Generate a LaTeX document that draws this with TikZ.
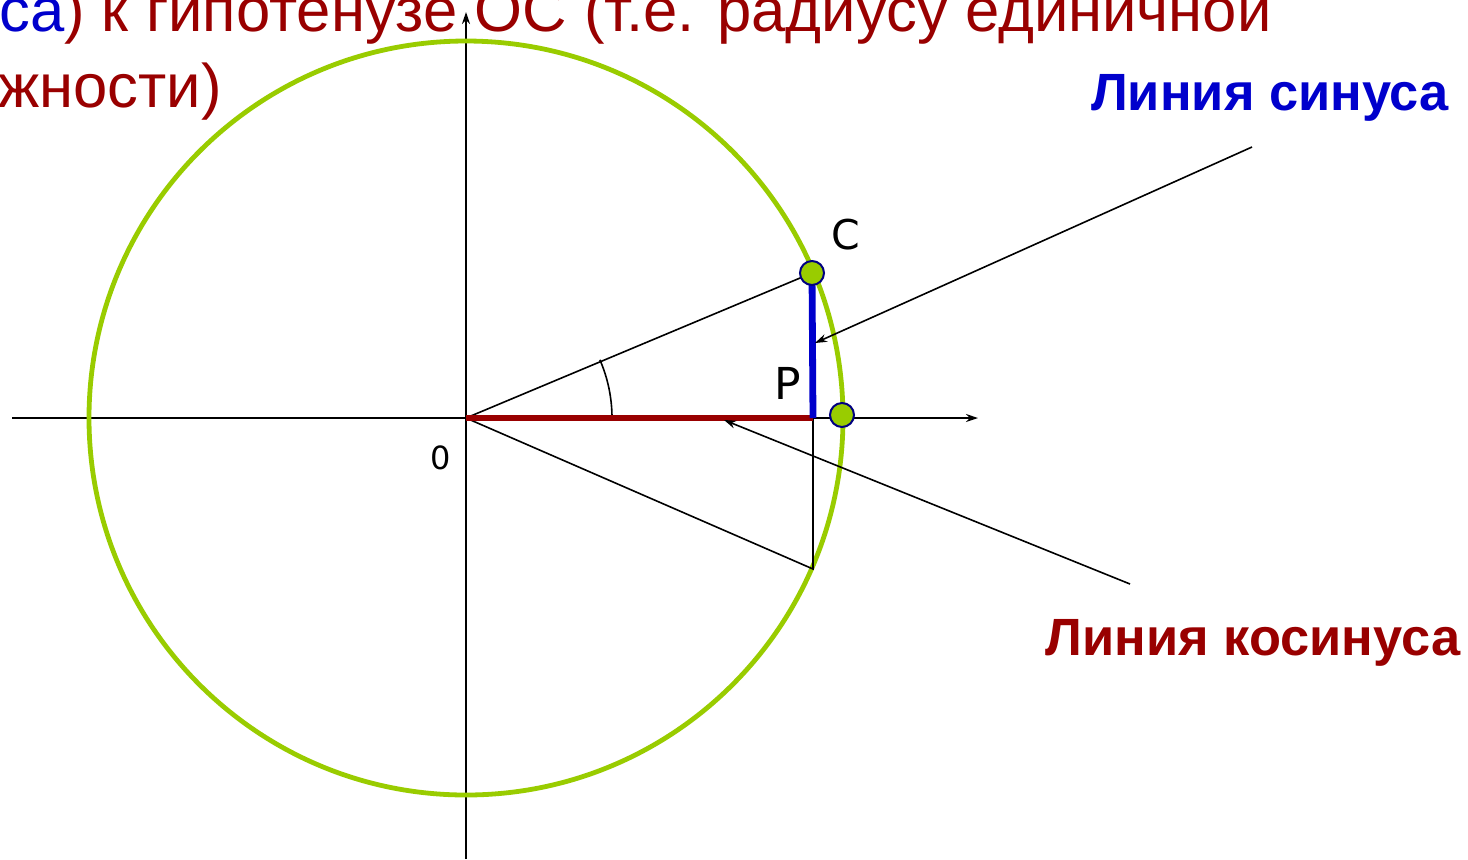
\documentclass[tikz,border=0pt]{standalone}
\usepackage{fontspec}
\setmainfont{Liberation Sans}
\newfontfamily\dejavu{DejaVu Sans}
\usepackage{tikz}
\usetikzlibrary{calc,arrows.meta,positioning}
\definecolor{circGreen}{RGB}{153,204,0}
\definecolor{sinBlue}{RGB}{0,0,204}
\definecolor{cosRed}{RGB}{153,0,0}
\definecolor{dotNavy}{RGB}{0,0,128}

\begin{document}
\begin{tikzpicture}[x=0.5pt, y=-0.5pt,
  thinline/.style={black, line width=0.8pt},
  axisline/.style={black, line width=0.8pt, -{Stealth[length=6pt,width=4pt]}},
  pointer/.style={black, line width=0.8pt, -{Stealth[length=6pt,width=4pt]}},
  dotmark/.style={circle, fill=circGreen, draw=dotNavy, line width=1pt, minimum size=12pt, inner sep=0pt},
  lbl/.style={inner sep=0pt, font=\dejavu}]
\useasboundingbox (0,0) rectangle (1468,859);

\coordinate (O) at (466,418);
\coordinate (C) at (812,273);
\coordinate (P) at (813,418);
\coordinate (D) at (813,569);

% axes
\draw[axisline] (12,418) -- (978,418);
\draw[axisline] (466,859) -- (466,12);

% unit circle
\draw[circGreen, line width=2.4pt] (O) circle[radius=377];

\draw[thinline] (O) -- (C);
\draw[thinline] (O) -- (D) -- (P);
\draw[thinline] (O) ++(146,0) arc[start angle=0, end angle=-23.5, radius=146];

% cosine and sine
\draw[cosRed, line width=3.4pt] (O) -- (P);
\draw[sinBlue, line width=3.4pt] (C) -- (P);

\node[dotmark] (Cdot) at (C) {};
\node[dotmark] (Adot) at (842,415) {};

\node[lbl, font=\dejavu\fontsize{20.5}{24}\selectfont] (Clbl) at (846,235) {C};
\node[lbl, font=\dejavu\fontsize{22}{26}\selectfont] (Plbl) at (788,383) {P};
\node[lbl, font=\dejavu\fontsize{16}{19}\selectfont] (Olbl) at (441,458) {0};

% captions
\node[anchor=base, inner sep=0pt, text=sinBlue, font=\bfseries\fontsize{26.2}{30}\selectfont] (sinlbl) at (1270,110) {Линия синуса};
\node[anchor=base, inner sep=0pt, text=cosRed, font=\bfseries\fontsize{26.2}{30}\selectfont] (coslbl) at (1253,655) {Линия косинуса};

\coordinate (sinFrom) at (1252,147);
\coordinate (sinTo) at (815,343);
\coordinate (cosFrom) at (1130,584);
\coordinate (cosTo) at (724,420);
\draw[pointer] (sinFrom) -- (sinTo);
\draw[pointer] (cosFrom) -- (cosTo);

% text cut off at the top
\node[anchor=base east, inner sep=0pt, text=cosRed, font=\fontsize{30.8}{35.5}\selectfont] (line1) at (1272,31) {\textcolor{sinBlue}{са}) к гипотенузе ОС (т.е. радиусу единичной};
\node[anchor=base east, inner sep=0pt, text=cosRed, font=\fontsize{30.8}{35.5}\selectfont] (line2) at (222,107) {жности)};
\end{tikzpicture}
\end{document}
